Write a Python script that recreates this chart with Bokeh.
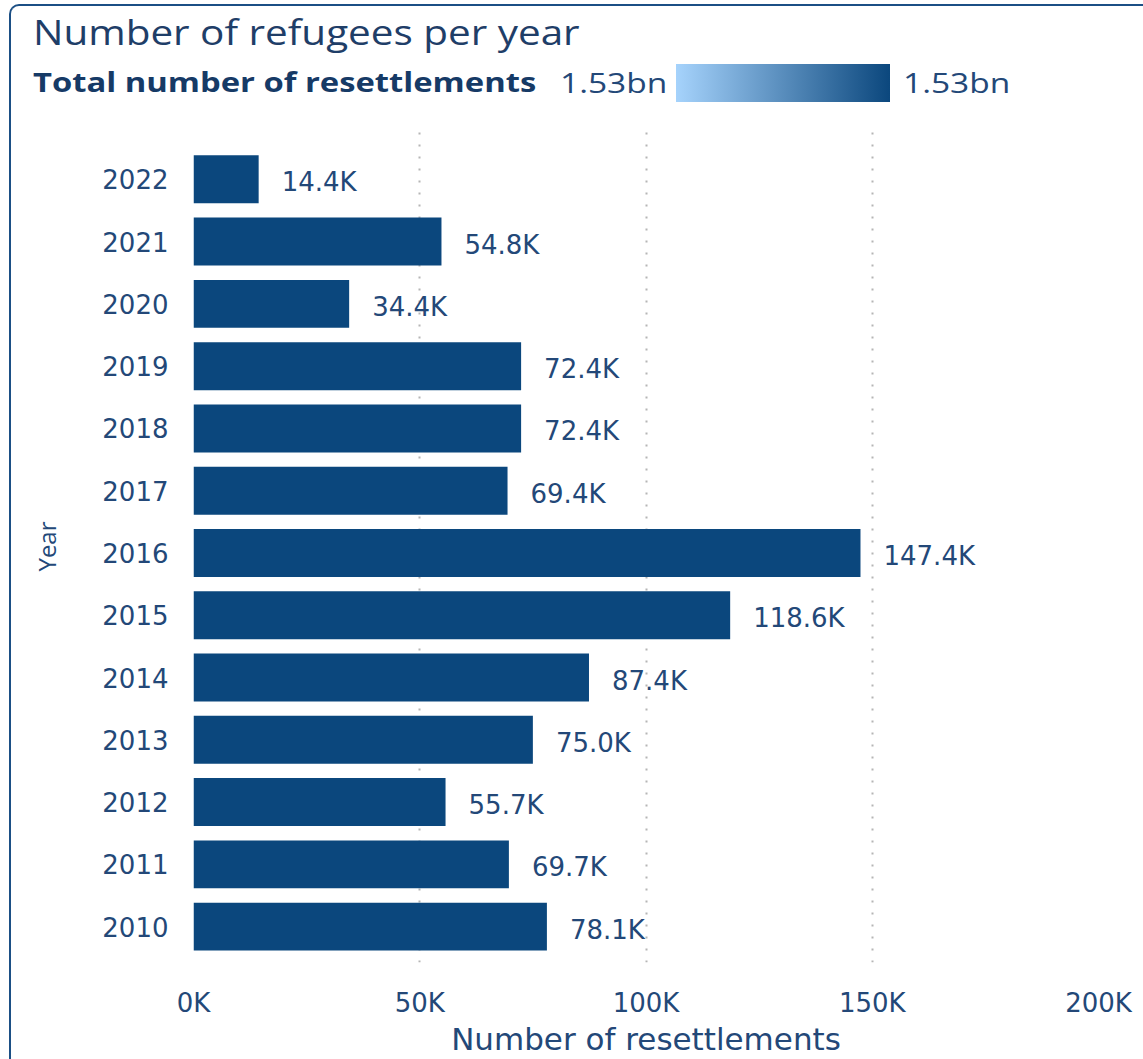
from bokeh.plotting import figure
from bokeh.layouts import column
from bokeh.models import Range1d, FixedTicker, Div
from bokeh.embed import file_html
from bokeh.resources import INLINE
from bokeh.core.properties import value

# ---------------- data ----------------
years = [2022, 2021, 2020, 2019, 2018, 2017, 2016, 2015, 2014, 2013, 2012, 2011, 2010]
resettlements = [14400, 54800, 34400, 72400, 72400, 69400, 147400, 118600, 87400,
                 75000, 55700, 69700, 78100]
value_labels = ["14.4K", "54.8K", "34.4K", "72.4K", "72.4K", "69.4K", "147.4K", "118.6K",
                "87.4K", "75.0K", "55.7K", "69.7K", "78.1K"]
x_ticks = [0, 50000, 100000, 150000, 200000]
x_tick_labels = ["0K", "50K", "100K", "150K", "200K"]
title_text = "Number of refugees per year"
legend_title = "Total number of resettlements"
legend_low_label = "1.53bn"
legend_high_label = "1.53bn"
x_axis_title = "Number of resettlements"
y_axis_title = "Year"

# ---------------- layout ----------------
W = 1132
HEAD_H = 124
MAIN_H = 929
FL, FR, FB = 182, 45, 94
X0, X1 = 0, 200000
Y_BOT, Y_TOP = 2009.424, 2022.784

BAR = "#0b477d"
TXT = "#234878"
FONT = "Open Sans"
NUMFONT = "DejaVu Sans"

# ---------------- header: title + colour legend ----------------
header_html = f"""
<div style="position:relative;width:{W}px;height:{HEAD_H}px;font-family:'{FONT}';">
  <div style="position:absolute;left:22px;top:8px;font-size:35px;line-height:35px;
              color:#1f3e68;white-space:nowrap;transform:scaleX(1.155);
              transform-origin:left center;">{title_text}</div>
  <div style="position:absolute;left:22px;top:58px;height:38px;display:flex;
              align-items:center;font-size:26px;font-weight:bold;color:#163a66;
              white-space:nowrap;transform:scaleX(1.26);
              transform-origin:left center;">{legend_title}</div>
  <div style="position:absolute;left:549px;top:58px;height:38px;display:flex;
              align-items:center;font-size:27px;color:{TXT};white-space:nowrap;
              transform:scaleX(1.24);transform-origin:left center;">{legend_low_label}</div>
  <div style="position:absolute;left:665px;top:58px;width:214px;height:38px;
              background:linear-gradient(to right,#a6d3fc,#0b477d);"></div>
  <div style="position:absolute;left:892px;top:58px;height:38px;display:flex;
              align-items:center;font-size:27px;color:{TXT};white-space:nowrap;
              transform:scaleX(1.24);transform-origin:left center;">{legend_high_label}</div>
</div>
"""
header = Div(text=header_html, width=W, height=HEAD_H, margin=0)

# ---------------- main bar chart ----------------
p = figure(width=W, height=MAIN_H, output_backend="svg", toolbar_location=None,
           x_range=Range1d(X0, X1), y_range=Range1d(Y_BOT, Y_TOP),
           min_border_left=FL, min_border_right=FR, min_border_top=0, min_border_bottom=FB,
           title=None)
p.margin = 0
p.border_fill_alpha = 0
p.outline_line_color = None
p.background_fill_color = "white"

p.hbar(y=years, left=0, right=resettlements, height=0.77, fill_color=BAR, line_color=None)

p.text(x=resettlements, y=years, text=value_labels, x_offset=23, y_offset=3,
       text_baseline="middle", text_align="left", text_color=TXT,
       text_font=value(NUMFONT), text_font_size="26px")

p.ygrid.visible = False
p.xgrid.ticker = FixedTicker(ticks=x_ticks)
p.xgrid.grid_line_color = "#b5b5b5"
p.xgrid.grid_line_dash = "2 10"
p.xgrid.grid_line_width = 2

xa = p.xaxis[0]
xa.ticker = FixedTicker(ticks=x_ticks)
xa.major_label_overrides = {t: l for t, l in zip(x_ticks, x_tick_labels)}
xa.axis_line_color = None
xa.major_tick_line_color = None
xa.minor_tick_line_color = None
xa.major_tick_out = 0
xa.major_tick_in = 0
xa.major_label_standoff = 25
xa.major_label_text_font = NUMFONT
xa.major_label_text_font_size = "26px"
xa.major_label_text_color = TXT
xa.axis_label = x_axis_title
xa.axis_label_text_font = NUMFONT
xa.axis_label_text_font_style = "normal"
xa.axis_label_text_font_size = "31px"
xa.axis_label_text_color = TXT
xa.axis_label_standoff = 0

ya = p.yaxis[0]
ya.ticker = FixedTicker(ticks=years)
ya.major_label_overrides = {y: str(y) for y in years}
ya.axis_line_color = None
ya.major_tick_line_color = None
ya.minor_tick_line_color = None
ya.major_tick_out = 0
ya.major_tick_in = 0
ya.major_label_standoff = 25
ya.major_label_text_font = NUMFONT
ya.major_label_text_font_size = "26px"
ya.major_label_text_color = TXT
ya.axis_label = y_axis_title
ya.axis_label_text_font = FONT
ya.axis_label_text_font_style = "normal"
ya.axis_label_text_font_size = "24px"
ya.axis_label_text_color = TXT
ya.axis_label_standoff = 36

layout = column(header, p, spacing=0, margin=(4, 0, 0, 9),
                styles={"border-left": "2px solid #1b4f85", "border-top": "2px solid #1b4f85",
                        "border-top-left-radius": "10px"})

open("out.html", "w").write(file_html(layout, INLINE))
